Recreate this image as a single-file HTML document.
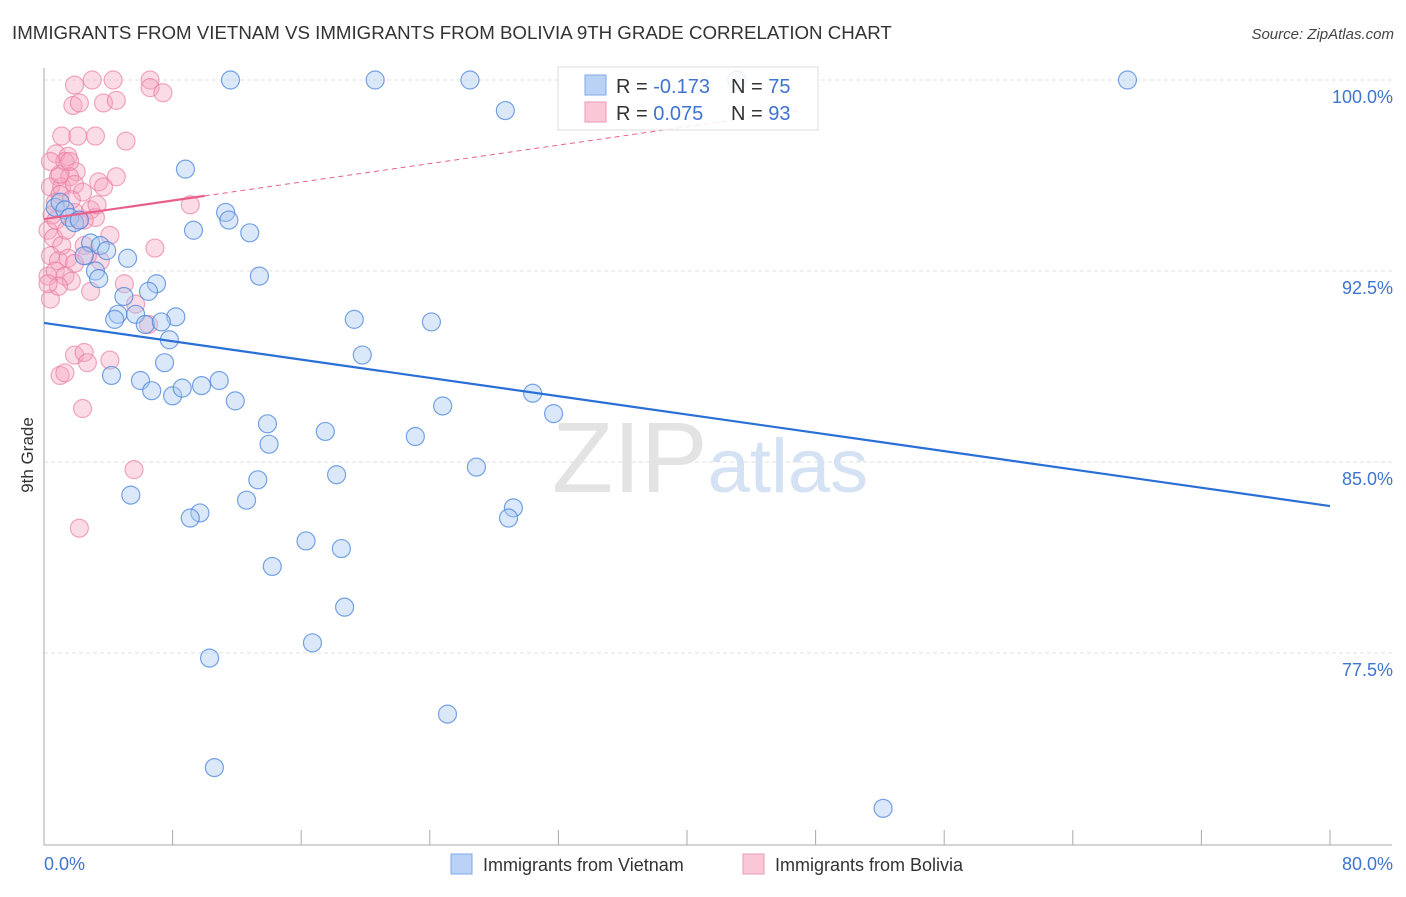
<!DOCTYPE html>
<html><head><meta charset="utf-8"><style>
body{margin:0;background:#fff;font-family:"Liberation Sans",sans-serif;}
svg text{font-family:"Liberation Sans",sans-serif;}
</style></head><body>
<svg id="chart" width="1406" height="892" xmlns="http://www.w3.org/2000/svg">
<text x="12" y="39" font-size="18.7" fill="#333">IMMIGRANTS FROM VIETNAM VS IMMIGRANTS FROM BOLIVIA 9TH GRADE CORRELATION CHART</text>
<text x="1394" y="39" font-size="15" fill="#444" text-anchor="end" font-style="italic">Source: ZipAtlas.com</text>
<g id="grid"></g>
<g id="axes"></g>
<text x="552" y="492" font-size="100" fill="#e3e3e3" font-family="Liberation Serif">ZIP<tspan fill="#d5e2f3" font-family="Liberation Sans" font-size="76">atlas</tspan></text>
<g id="pts"></g>
<g id="lines"></g>
<text transform="translate(33,455) rotate(-90)" font-size="17" fill="#333" text-anchor="middle">9th Grade</text>
<g>
<rect x="558" y="67" width="260" height="63" fill="#fff" fill-opacity="0.85" stroke="#ddd"/>
<rect x="585" y="75" width="21" height="20" fill="#b9d2f5" stroke="#7fa8e6"/>
<rect x="585" y="102" width="21" height="20" fill="#f9c7d6" stroke="#ee9ab4"/>
<text x="616" y="93" font-size="20" fill="#333">R = <tspan fill="#3f74d0">-0.173</tspan></text>
<text x="731" y="93" font-size="20" fill="#333">N = <tspan fill="#3f74d0">75</tspan></text>
<text x="616" y="120" font-size="20" fill="#333">R = <tspan fill="#3f74d0"> 0.075</tspan></text>
<text x="731" y="120" font-size="20" fill="#333">N = <tspan fill="#3f74d0">93</tspan></text>
</g>
<g>
<rect x="451" y="854" width="21" height="20" fill="#b9d2f5" stroke="#7fa8e6"/>
<text x="483" y="871" font-size="18" fill="#333">Immigrants from Vietnam</text>
<rect x="743" y="854" width="21" height="20" fill="#f9c7d6" stroke="#ee9ab4"/>
<text x="775" y="871" font-size="18" fill="#333">Immigrants from Bolivia</text>
</g>
</svg>
<script>
const yTicks=[100,92.5,85,77.5];
const yTickLabels=["100.0%","92.5%","85.0%","77.5%"];
const xEnds=[0,80];
const xEndLabels=["0.0%","80.0%"];
const vietX=[11.6,20.6,26.5,67.4,43.1,28.7,8.8,11.3,11.5,9.3,12.8,0.7,1.0,1.3,1.6,1.9,2.2,2.9,3.5,3.9,5.2,2.5,3.2,3.4,13.4,7.0,6.5,4.97,4.6,4.4,5.7,8.2,6.3,7.3,7.8,7.5,19.3,24.1,19.8,4.2,6.0,6.7,8.0,8.6,9.8,10.9,11.9,30.4,24.8,31.7,13.9,14.0,17.5,23.1,26.9,18.2,13.3,5.4,12.6,9.7,9.1,29.2,28.9,16.3,18.5,14.2,18.7,16.7,10.3,25.1,10.6,52.2];
const vietY=[100,100,100,100,100,98.8,96.5,94.8,94.5,94.1,94.0,95.0,95.2,94.9,94.6,94.4,94.5,93.6,93.5,93.3,93.0,93.1,92.5,92.2,92.3,92.0,91.7,91.5,90.8,90.6,90.8,90.7,90.4,90.5,89.8,88.9,90.6,90.5,89.2,88.4,88.2,87.8,87.6,87.9,88.0,88.2,87.4,87.7,87.2,86.9,86.5,85.7,86.2,86.0,84.8,84.5,84.3,83.7,83.5,83.0,82.8,83.2,82.8,81.9,81.6,80.9,79.3,77.9,77.3,75.1,73.0,71.4];
const bolX=[1.9,3.0,4.3,6.6,6.6,7.4,1.8,2.2,3.7,4.5,1.1,2.1,3.2,5.1,0.75,1.5,1.3,2.0,0.9,1.6,4.5,0.4,1.1,1.9,3.4,3.7,2.4,0.7,1.0,2.9,3.2,1.9,2.2,9.1,0.25,0.6,1.1,2.5,4.1,0.4,0.9,1.5,1.9,2.7,3.5,0.25,0.7,1.3,1.7,2.9,5.0,0.4,0.9,6.9,5.7,6.5,1.0,1.3,1.9,2.5,2.7,4.1,2.4,5.6,2.2,0.25,0.5,1.0,0.4,1.6,2.5,3.3,0.75,1.4,1.7];
const bolY=[99.8,100,100,100,99.7,99.5,99.0,99.1,99.1,99.2,97.8,97.8,97.8,97.6,97.1,97.0,96.8,96.4,96.2,96.2,96.2,95.8,95.8,95.9,96.0,95.8,95.6,95.2,95.5,94.9,94.6,94.8,94.5,95.1,94.1,93.8,93.5,93.5,93.9,93.1,92.9,93.0,92.8,93.1,92.9,92.3,92.5,92.3,92.1,91.7,92.0,91.4,91.9,93.4,91.2,90.4,88.4,88.5,89.2,89.3,88.9,89.0,87.1,84.7,82.4,92.0,94.7,96.3,96.8,96.8,94.5,95.1,94.5,94.1,95.3];
const vietTrend=[90.46,83.27];
const bolTrend=[94.54,95.45,98.8];
const X=v=>44+v*(1286/80);
const Y=v=>80+(100-v)*(191/7.5);
const NS="http://www.w3.org/2000/svg";
function mk(tag,parent,attrs){const e=document.createElementNS(NS,tag);for(const k in attrs)e.setAttribute(k,attrs[k]);document.getElementById(parent).appendChild(e);return e;}
yTicks.forEach((t,i)=>{
 const l=mk('line','grid',{x1:44,x2:1392,y1:Y(t),y2:Y(t),stroke:'#e2e2e2','stroke-dasharray':'4,3'});
 
 
 const tx=mk('text','grid',{x:1393,y:Y(t)+23,'font-size':18,fill:'#3f74d0','text-anchor':'end'});
 tx.textContent=yTickLabels[i];
 
 
});
const ax=mk('line','axes',{x1:44,x2:44,y1:68,y2:845,stroke:'#aaa'});


const bx=mk('line','axes',{x1:44,x2:1392,y1:845,y2:845,stroke:'#aaa'});


for(let i=0;i<=10;i++){const t=mk('line','axes',{x1:X(i*8),x2:X(i*8),y1:830,y2:845,stroke:'#aaa'});
 
 }
xEnds.forEach((v,i)=>{const t=mk('text','axes',{x:i?1393:44,y:870,'font-size':18,fill:'#3f74d0','text-anchor':i?'end':'start'});
 t.textContent=xEndLabels[i];
 
 });
bolX.forEach((v,i)=>{const c=mk('circle','pts',{cx:X(v),cy:Y(bolY[i]),r:9,fill:'#f4a3bd','fill-opacity':0.38,stroke:'#ea7a9f','stroke-opacity':0.65,'stroke-width':1.2});
 
 });
vietX.forEach((v,i)=>{const c=mk('circle','pts',{cx:X(v),cy:Y(vietY[i]),r:9,fill:'#a9c8f0','fill-opacity':0.42,stroke:'#4a86dc','stroke-opacity':0.75,'stroke-width':1.2});
 
 });
const vl=mk('line','lines',{x1:X(0),y1:Y(vietTrend[0]),x2:X(80),y2:Y(vietTrend[1]),stroke:'#2a6fd6','stroke-width':2.2});


const bl=mk('line','lines',{x1:X(0),y1:Y(bolTrend[0]),x2:X(10),y2:Y(bolTrend[1]),stroke:'#e8608a','stroke-width':2.2});


const bd=mk('line','lines',{x1:X(10),y1:Y(bolTrend[1]),x2:X(47),y2:Y(bolTrend[2]),stroke:'#e8608a','stroke-width':1,'stroke-dasharray':'5,4'});


</script>
</body></html>
